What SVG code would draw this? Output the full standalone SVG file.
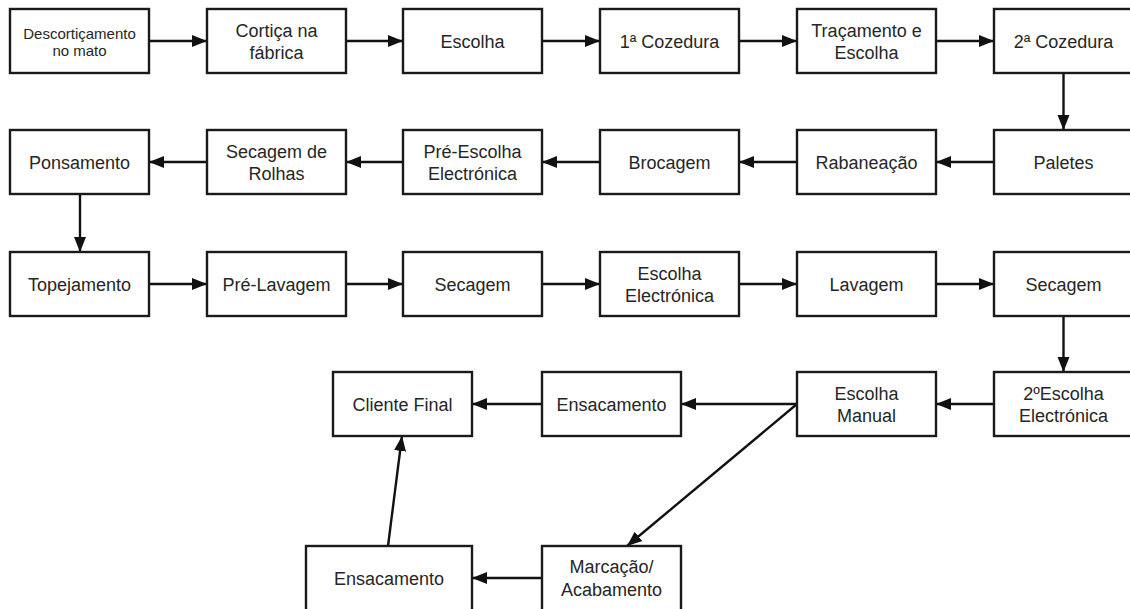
<svg xmlns="http://www.w3.org/2000/svg" width="1130" height="609" viewBox="0 0 1130 609">
  <style>
    .box { fill: #ffffff; stroke: #1a1a1a; stroke-width: 2.4; }
    .lbl { font-family: "Liberation Sans", Arial, sans-serif; font-size: 18px; fill: #262626; text-anchor: middle; }
    .sm { font-size: 15px; }
    .edge { fill: none; stroke: #111111; stroke-width: 2.4; marker-end: url(#arrow); }
  </style>
  <defs>
    <marker id="arrow" markerUnits="userSpaceOnUse" markerWidth="16" markerHeight="14" refX="15" refY="6.5" orient="auto">
      <path d="M0,0.5 L15,6.5 L0,12.5 z" fill="#111111"/>
    </marker>
  </defs>
  <rect width="1130" height="609" fill="#ffffff"/>

  <!-- connectors -->
  <g id="connectors">
    <line class="edge" x1="149" y1="41" x2="207" y2="41"/>
    <line class="edge" x1="346" y1="41" x2="403" y2="41"/>
    <line class="edge" x1="542" y1="41" x2="600" y2="41"/>
    <line class="edge" x1="739" y1="41" x2="797" y2="41"/>
    <line class="edge" x1="936" y1="41" x2="994" y2="41"/>
    <line class="edge" x1="1063.5" y1="73" x2="1063.5" y2="130"/>
    <line class="edge" x1="994" y1="162" x2="936" y2="162"/>
    <line class="edge" x1="797" y1="162" x2="739" y2="162"/>
    <line class="edge" x1="600" y1="162" x2="542" y2="162"/>
    <line class="edge" x1="403" y1="162" x2="346" y2="162"/>
    <line class="edge" x1="207" y1="162" x2="149" y2="162"/>
    <line class="edge" x1="80" y1="194" x2="80" y2="252"/>
    <line class="edge" x1="149" y1="284" x2="207" y2="284"/>
    <line class="edge" x1="346" y1="284" x2="403" y2="284"/>
    <line class="edge" x1="542" y1="284" x2="600" y2="284"/>
    <line class="edge" x1="739" y1="284" x2="797" y2="284"/>
    <line class="edge" x1="936" y1="284" x2="994" y2="284"/>
    <line class="edge" x1="1063.5" y1="316" x2="1063.5" y2="372"/>
    <line class="edge" x1="994" y1="404" x2="936" y2="404"/>
    <line class="edge" x1="797" y1="404" x2="681" y2="404"/>
    <line class="edge" x1="542" y1="404" x2="472" y2="404"/>
    <line class="edge" x1="797" y1="404" x2="627" y2="546"/>
    <line class="edge" x1="542" y1="578" x2="472" y2="578"/>
    <line class="edge" x1="388" y1="546" x2="402" y2="436"/>
  </g>

  <!-- row 1 -->
  <g id="n-descorticamento">
    <rect class="box" x="10" y="9" width="139" height="64"/>
    <text class="lbl sm" x="79.5" y="38.5">Descortiçamento</text>
    <text class="lbl sm" x="79.5" y="55.5">no mato</text>
  </g>
  <g id="n-cortica">
    <rect class="box" x="207" y="9" width="139" height="64"/>
    <text class="lbl" x="276.5" y="36.5">Cortiça na</text>
    <text class="lbl" x="276.5" y="59">fábrica</text>
  </g>
  <g id="n-escolha">
    <rect class="box" x="403" y="9" width="139" height="64"/>
    <text class="lbl" x="472.5" y="47.5">Escolha</text>
  </g>
  <g id="n-cozedura1">
    <rect class="box" x="600" y="9" width="139" height="64"/>
    <text class="lbl" x="669.5" y="47.5">1ª Cozedura</text>
  </g>
  <g id="n-tracamento">
    <rect class="box" x="797" y="9" width="139" height="64"/>
    <text class="lbl" x="866.5" y="36.5">Traçamento e</text>
    <text class="lbl" x="866.5" y="59">Escolha</text>
  </g>
  <g id="n-cozedura2">
    <rect class="box" x="994" y="9" width="139" height="64"/>
    <text class="lbl" x="1063.5" y="47.5">2ª Cozedura</text>
  </g>

  <!-- row 2 -->
  <g id="n-paletes">
    <rect class="box" x="994" y="130" width="139" height="64"/>
    <text class="lbl" x="1063.5" y="168.5">Paletes</text>
  </g>
  <g id="n-rabaneacao">
    <rect class="box" x="797" y="130" width="139" height="64"/>
    <text class="lbl" x="866.5" y="168.5">Rabaneação</text>
  </g>
  <g id="n-brocagem">
    <rect class="box" x="600" y="130" width="139" height="64"/>
    <text class="lbl" x="669.5" y="168.5">Brocagem</text>
  </g>
  <g id="n-pre-escolha">
    <rect class="box" x="403" y="130" width="139" height="64"/>
    <text class="lbl" x="472.5" y="157.5">Pré-Escolha</text>
    <text class="lbl" x="472.5" y="180">Electrónica</text>
  </g>
  <g id="n-secagem-rolhas">
    <rect class="box" x="207" y="130" width="139" height="64"/>
    <text class="lbl" x="276.5" y="157.5">Secagem de</text>
    <text class="lbl" x="276.5" y="180">Rolhas</text>
  </g>
  <g id="n-ponsamento">
    <rect class="box" x="10" y="130" width="139" height="64"/>
    <text class="lbl" x="79.5" y="168.5">Ponsamento</text>
  </g>

  <!-- row 3 -->
  <g id="n-topejamento">
    <rect class="box" x="10" y="252" width="139" height="64"/>
    <text class="lbl" x="79.5" y="290.5">Topejamento</text>
  </g>
  <g id="n-pre-lavagem">
    <rect class="box" x="207" y="252" width="139" height="64"/>
    <text class="lbl" x="276.5" y="290.5">Pré-Lavagem</text>
  </g>
  <g id="n-secagem1">
    <rect class="box" x="403" y="252" width="139" height="64"/>
    <text class="lbl" x="472.5" y="290.5">Secagem</text>
  </g>
  <g id="n-escolha-electronica">
    <rect class="box" x="600" y="252" width="139" height="64"/>
    <text class="lbl" x="669.5" y="279.5">Escolha</text>
    <text class="lbl" x="669.5" y="302">Electrónica</text>
  </g>
  <g id="n-lavagem">
    <rect class="box" x="797" y="252" width="139" height="64"/>
    <text class="lbl" x="866.5" y="290.5">Lavagem</text>
  </g>
  <g id="n-secagem2">
    <rect class="box" x="994" y="252" width="139" height="64"/>
    <text class="lbl" x="1063.5" y="290.5">Secagem</text>
  </g>

  <!-- row 4 -->
  <g id="n-escolha2-electronica">
    <rect class="box" x="994" y="372" width="139" height="64"/>
    <text class="lbl" x="1063.5" y="399.5">2ºEscolha</text>
    <text class="lbl" x="1063.5" y="422">Electrónica</text>
  </g>
  <g id="n-escolha-manual">
    <rect class="box" x="797" y="372" width="139" height="64"/>
    <text class="lbl" x="866.5" y="399.5">Escolha</text>
    <text class="lbl" x="866.5" y="422">Manual</text>
  </g>
  <g id="n-ensacamento1">
    <rect class="box" x="542" y="372" width="139" height="64"/>
    <text class="lbl" x="611.5" y="410.5">Ensacamento</text>
  </g>
  <g id="n-cliente-final">
    <rect class="box" x="333" y="372" width="139" height="64"/>
    <text class="lbl" x="402.5" y="410.5">Cliente Final</text>
  </g>

  <!-- row 5 -->
  <g id="n-marcacao">
    <rect class="box" x="542" y="546" width="139" height="66"/>
    <text class="lbl" x="611.5" y="573">Marcação/</text>
    <text class="lbl" x="611.5" y="596">Acabamento</text>
  </g>
  <g id="n-ensacamento2">
    <rect class="box" x="306" y="546" width="166" height="66"/>
    <text class="lbl" x="389" y="584.5">Ensacamento</text>
  </g>
</svg>
